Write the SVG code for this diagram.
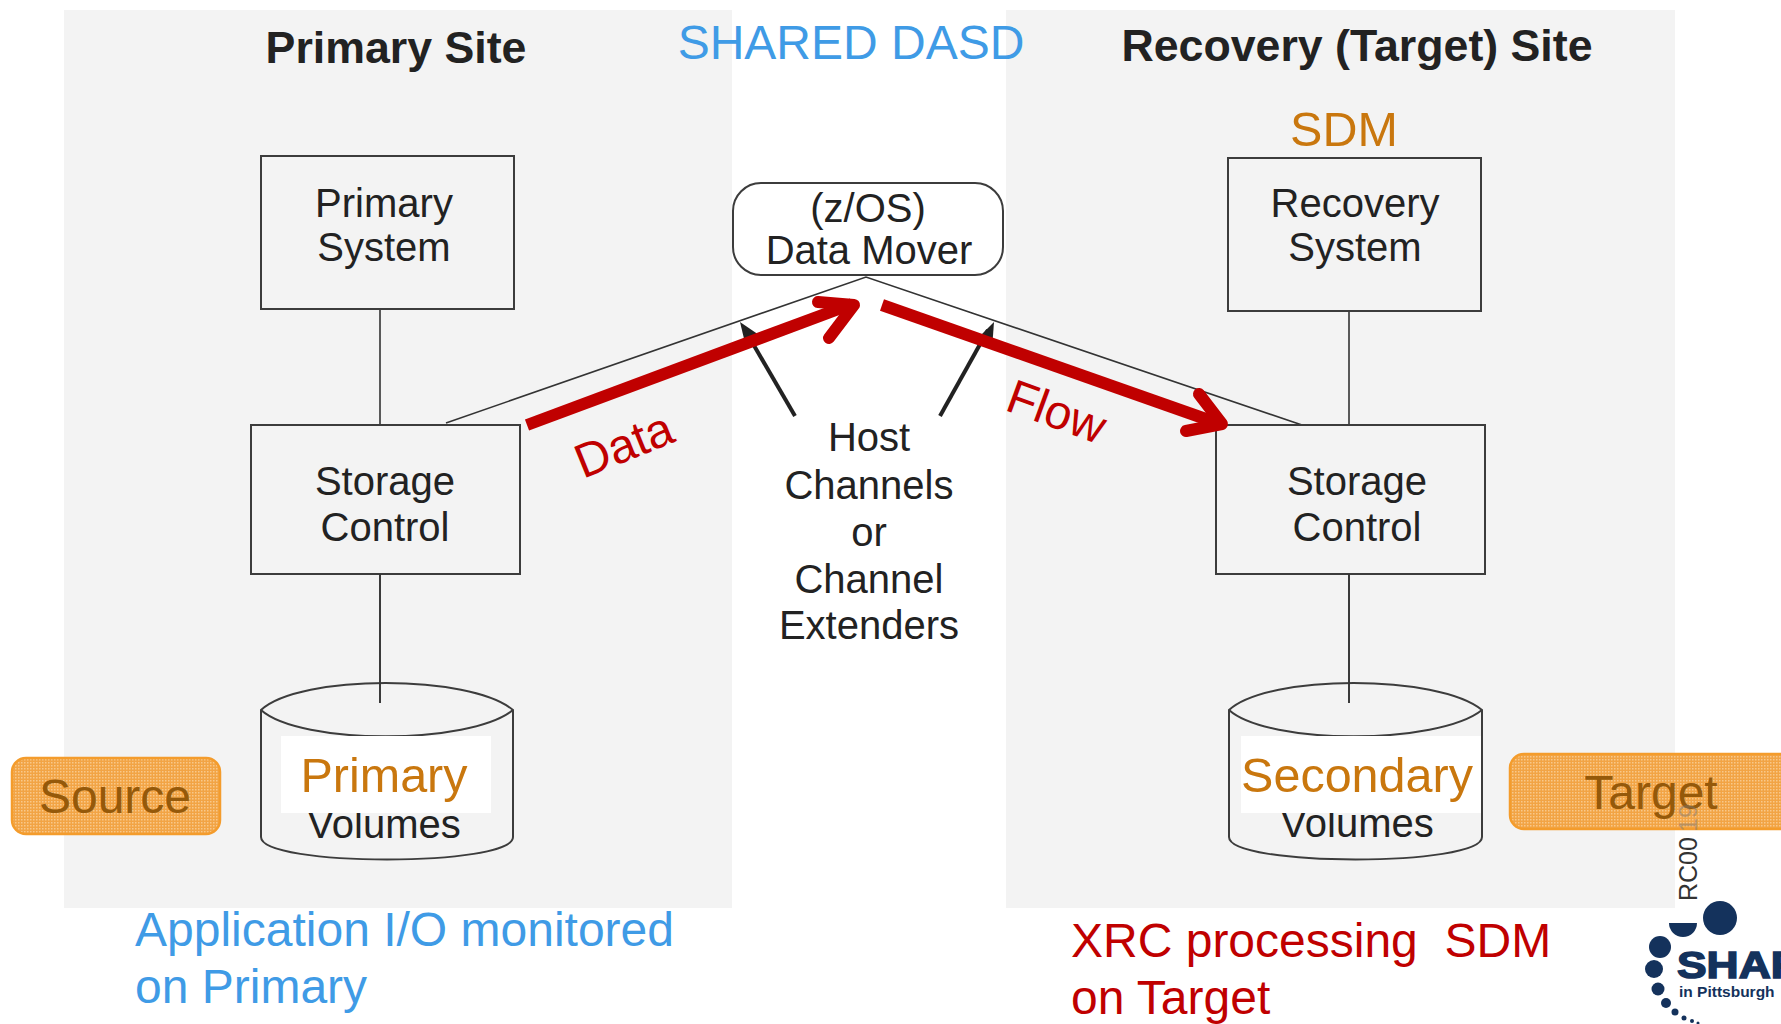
<svg xmlns="http://www.w3.org/2000/svg" width="1781" height="1024" viewBox="0 0 1781 1024">
<style>
text{font-family:"Liberation Sans",Arial,sans-serif}
.panel{fill:#f3f3f3}
.box{fill:none;stroke:#3c3c3c;stroke-width:2}
.fillw{fill:#fff;stroke:#3c3c3c;stroke-width:2}
.line{fill:none;stroke:#333;stroke-width:1.6}
.lab{font-size:40px;fill:#222;text-anchor:middle}
.head{font-size:44.7px;font-weight:bold;fill:#222;text-anchor:middle}
.org{font-size:48.5px;fill:#c9770e;text-anchor:middle}
.blue{font-size:48px;fill:#3f9be6}
.red{font-size:48px;fill:#c00000}
.badge{fill:url(#dots);stroke:#f49c2c;stroke-width:2.5}
.badgetext{font-size:48px;fill:#95590a;text-anchor:middle}
.bigarrow{fill:none;stroke:#c00000;stroke-width:12}
.redlab{font-size:48px;fill:#c00000;text-anchor:middle}
.logo{fill:#14325c}
</style>
<defs>
<pattern id="dots" width="3" height="3" patternUnits="userSpaceOnUse">
<rect width="3" height="3" fill="#f2a445"/>
<rect width="1.5" height="1.5" fill="#f8c88a"/>
</pattern>
</defs>
<rect width="1781" height="1024" fill="#fff"/>
<g id="primary-site">
<rect class="panel" x="64" y="10" width="668" height="898"/>
<text class="head" x="396" y="63">Primary Site</text>
</g>
<g id="recovery-site">
<rect class="panel" x="1006" y="10" width="669" height="898"/>
<text class="head" x="1357" y="61">Recovery (Target) Site</text>
</g>
<text id="shared-dasd" x="851" y="59" font-size="48" fill="#3f9be6" text-anchor="middle">SHARED DASD</text>
<text id="sdm" class="org" x="1344" y="146">SDM</text>
<g id="connectors">
<path class="line" d="M380 309V425M380 574V703M1349 311V425M1349 574V703"/>
<path class="line" d="M446 423L866 277L1302 425"/>
<path d="M795 416L745 330" fill="none" stroke="#222" stroke-width="4"/>
<path d="M740 322L762 337L746 347z" fill="#222"/>
<path d="M940 416L988 330" fill="none" stroke="#222" stroke-width="4"/>
<path d="M994 322L992 349L976 340z" fill="#222"/>
</g>
<g id="primary-system"><rect class="box" x="261" y="156" width="253" height="153"/>
<text class="lab" x="384" y="217">Primary</text><text class="lab" x="384" y="261">System</text></g>
<g id="recovery-system"><rect class="box" x="1228" y="158" width="253" height="153"/>
<text class="lab" x="1355" y="217">Recovery</text><text class="lab" x="1355" y="261">System</text></g>
<g id="data-mover"><rect class="fillw" x="733" y="183" width="270" height="92" rx="28"/>
<text class="lab" x="868" y="222">(z/OS)</text><text class="lab" x="869" y="264">Data Mover</text></g>
<g id="storage-control-primary"><rect class="box" x="251" y="425" width="269" height="149"/>
<text class="lab" x="385" y="495">Storage</text><text class="lab" x="385" y="541">Control</text></g>
<g id="storage-control-recovery"><rect class="box" x="1216" y="425" width="269" height="149"/>
<text class="lab" x="1357" y="495">Storage</text><text class="lab" x="1357" y="541">Control</text></g>
<g id="primary-volumes">
<path class="box" d="M261 710C300 674 470 674 513 710V837C513 867 261 867 261 837zM261 710C300 745 470 745 513 710"/>
<text class="lab" x="384" y="838">Volumes</text>
<rect x="281" y="736" width="210" height="77" fill="#fff"/>
<text class="org" x="384" y="792">Primary</text>
</g>
<g id="secondary-volumes">
<path class="box" d="M1229 710C1268 674 1438 674 1482 710V837C1482 867 1229 867 1229 837zM1229 710C1268 745 1438 745 1482 710"/>
<text class="lab" x="1357" y="837">Volumes</text>
<rect x="1241" y="736" width="240" height="77" fill="#fff"/>
<text class="org" x="1357" y="792">Secondary</text>
</g>
<path d="M380 574V703M1349 574V703" class="line"/>
<g id="channels">
<text class="lab" x="869" y="451">Host</text>
<text class="lab" x="869" y="499">Channels</text>
<text class="lab" x="869" y="546">or</text>
<text class="lab" x="869" y="593">Channel</text>
<text class="lab" x="869" y="639">Extenders</text>
</g>
<g id="source"><rect class="badge" x="12" y="758" width="208" height="76" rx="14"/>
<text class="badgetext" x="115" y="813">Source</text></g>
<g id="rc-label"><text transform="translate(1697 901) rotate(-90)" font-size="25" fill="#333">RC00</text></g>
<g id="target"><rect class="badge" x="1510" y="754" width="290" height="75" rx="14"/>
<text class="badgetext" x="1651" y="809">Target</text></g>
<text transform="translate(1697 832) rotate(-90)" font-size="25" fill="#777" opacity=".45">19</text>
<g id="data-flow">
<path class="bigarrow" d="M527 425L852 304"/>
<path class="bigarrow" stroke-linecap="round" stroke-linejoin="round" d="M818 302L854 305L829 338"/>
<path class="bigarrow" d="M882 305L1220 424"/>
<path class="bigarrow" stroke-linecap="round" stroke-linejoin="round" d="M1199 394L1222 424L1186 431"/>
<text class="redlab" transform="translate(630 460) rotate(-22)">Data</text>
<text class="redlab" transform="translate(1051 427) rotate(20)">Flow</text>
</g>
<g id="note-primary"><text class="blue" x="135" y="946">Application I/O monitored</text><text class="blue" x="135" y="1003">on Primary</text></g>
<g id="note-target"><text class="red" x="1071" y="957" xml:space="preserve">XRC processing  SDM</text><text class="red" x="1071" y="1014">on Target</text></g>
<g id="logo">
<circle class="logo" cx="1720" cy="918" r="17"/>
<path class="logo" d="M1669 923H1697A14 14 0 0 1 1669 923z"/>
<circle class="logo" cx="1660" cy="947" r="11"/>
<circle class="logo" cx="1654" cy="969" r="9"/>
<circle class="logo" cx="1658" cy="989" r="6.5"/>
<circle class="logo" cx="1666" cy="1003" r="5"/>
<circle class="logo" cx="1675" cy="1012" r="3.5"/>
<circle class="logo" cx="1684" cy="1018" r="2.5"/>
<circle class="logo" cx="1692" cy="1021" r="2"/>
<circle class="logo" cx="1698" cy="1023" r="1.5"/>
<text transform="translate(1677 978) scale(1.2 1)" font-size="37" font-weight="900" fill="#14325c" stroke="#14325c" stroke-width="1.5">SHARE</text>
<text x="1679" y="997" font-size="15.5" font-weight="bold" fill="#14325c">in Pittsburgh</text>
</g>
</svg>
